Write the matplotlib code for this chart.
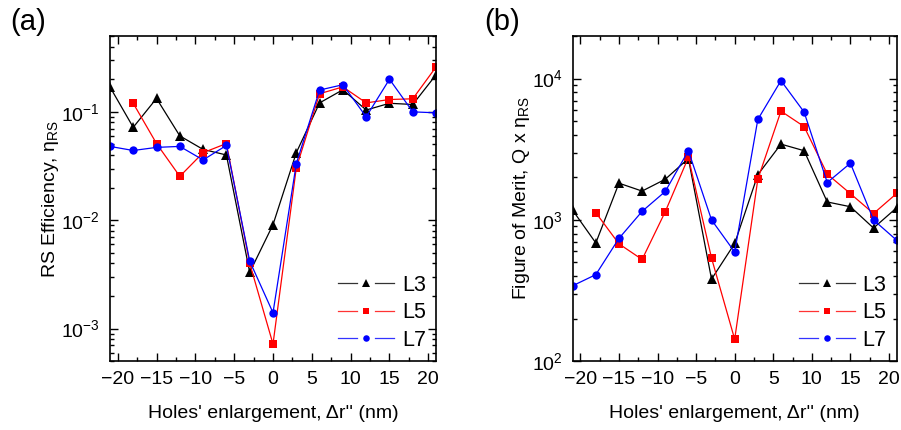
import matplotlib
matplotlib.use("Agg")
import matplotlib.pyplot as plt
import numpy as np
from matplotlib.legend_handler import HandlerBase
from matplotlib.lines import Line2D
from matplotlib.ticker import MultipleLocator, LogLocator, NullFormatter

plt.rcParams["font.family"] = ["Liberation Sans", "DejaVu Sans"]
plt.rcParams["mathtext.fontset"] = "custom"
plt.rcParams["mathtext.rm"] = "Liberation Sans"
plt.rcParams["mathtext.it"] = "Liberation Sans:italic"
plt.rcParams["mathtext.default"] = "regular"

# hole enlargement (nm)
dr_full = [-21, -18, -15, -12, -9, -6, -3, 0, 3, 6, 9, 12, 15, 18, 21]
dr_l5 = dr_full[1:]

# (a) RS efficiency
eta_l3 = [0.17, 0.072, 0.133, 0.060, 0.045, 0.040, 0.0033, 0.0091, 0.042,
          0.121, 0.16, 0.104, 0.12, 0.117, 0.22]
eta_l5 = [0.12, 0.051, 0.0254, 0.042, 0.051, 0.0040, 0.00072, 0.0304,
          0.147, 0.17, 0.121, 0.13, 0.132, 0.26]
eta_l7 = [0.048, 0.044, 0.047, 0.048, 0.036, 0.049, 0.0042, 0.0014, 0.0333,
          0.159, 0.178, 0.090, 0.20, 0.10, 0.098]

# (b) figure of merit Q x eta
fom_l3 = [1170, 687, 1820, 1600, 1940, 2720, 381, 681, 2090, 3440, 3090,
          1340, 1240, 876, 1220]
fom_l5 = [1125, 677, 525, 1143, 2770, 537, 143, 1940, 5890, 4580, 2110,
          1535, 1110, 1540]
fom_l7 = [342, 410, 740, 1150, 1590, 3090, 1000, 593, 5140, 9680, 5800,
          1840, 2520, 1000, 718]

STYLE = {
    "L3": dict(color="black", marker="^", markersize=6.5),
    "L5": dict(color="red", marker="s", markersize=5.5),
    "L7": dict(color="blue", marker="o", markersize=6),
}


class GapLineHandler(HandlerBase):
    """Legend entry drawn as: line, gap, marker, gap, line."""

    def create_artists(self, legend, orig_handle, xdescent, ydescent,
                       width, height, fontsize, trans):
        x0 = -xdescent
        x1 = x0 + width
        xm = (x0 + x1) / 2
        gap = 0.16 * width
        y = height / 2 - ydescent
        color = orig_handle.get_color()
        seg = Line2D([x0, xm - gap, np.nan, xm + gap, x1], [y, y, np.nan, y, y],
                     color=color, linewidth=0.9, alpha=0.8, transform=trans)
        mk = Line2D([xm], [y], color=color, marker=orig_handle.get_marker(),
                    markersize=orig_handle.get_markersize() - 1.3,
                    markeredgewidth=0, linestyle="none", transform=trans)
        return [seg, mk]


def style_axes(ax):
    ax.set_yscale("log")
    ax.set_xlim(-21, 21)
    ax.xaxis.set_major_locator(MultipleLocator(5))
    ax.xaxis.set_minor_locator(MultipleLocator(2.5))
    ax.yaxis.set_minor_locator(LogLocator(base=10, subs=range(2, 10)))
    ax.yaxis.set_minor_formatter(NullFormatter())
    ax.tick_params(which="both", direction="in", top=True, right=True,
                   labelsize=14, width=1, pad=7)
    ax.tick_params(which="major", length=6)
    ax.tick_params(which="minor", length=3)
    for spine in ax.spines.values():
        spine.set_linewidth(1.2)
    ax.set_xlabel("Holes' enlargement, \u0394r'' (nm)", fontsize=14, labelpad=12)
    ax.legend(loc="lower right", frameon=False, fontsize=15.5,
              handlelength=2.6, handletextpad=0.35, labelspacing=0.3,
              borderaxespad=0.08, handler_map={Line2D: GapLineHandler()})


def draw(ax, series):
    for name, x, y in series:
        ax.plot(x, y, label=name, linewidth=0.9, markeredgewidth=0, **STYLE[name])


fig = plt.figure(figsize=(9.01, 4.30), dpi=100)
ax_a = fig.add_axes([0.122, 0.160, 0.362, 0.756])
ax_b = fig.add_axes([0.6356, 0.160, 0.3596, 0.756])

draw(ax_a, [("L3", dr_full, eta_l3), ("L5", dr_l5, eta_l5), ("L7", dr_full, eta_l7)])
ax_a.set_ylim(5e-4, 0.5)
ax_a.set_ylabel(r"RS Efficiency, $\eta_{RS}$", fontsize=14, labelpad=0)
style_axes(ax_a)

draw(ax_b, [("L3", dr_full, fom_l3), ("L5", dr_l5, fom_l5), ("L7", dr_full, fom_l7)])
ax_b.set_ylim(100, 2e4)
ax_b.set_ylabel(r"Figure of Merit, Q x $\eta_{RS}$", fontsize=14, labelpad=0)
style_axes(ax_b)

fig.text(0.011, 0.948, "(a)", fontsize=21, va="center")
fig.text(0.538, 0.948, "(b)", fontsize=21, va="center")

fig.savefig("out.png", dpi=100)
